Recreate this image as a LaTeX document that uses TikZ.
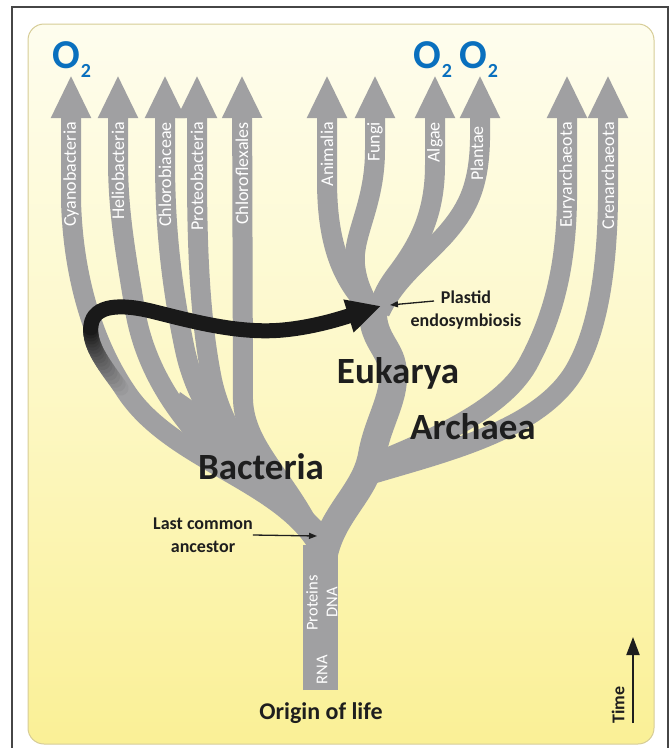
\documentclass[tikz,border=0pt]{standalone}
\usepackage{fontspec}
\setmainfont{Carlito}
\usetikzlibrary{arrows.meta}
\definecolor{branchgrey}{RGB}{160,160,162}
\definecolor{oxblue}{RGB}{10,112,190}
\definecolor{ink}{RGB}{30,30,30}
\definecolor{arrowblack}{RGB}{25,25,25}
\definecolor{bgtop}{RGB}{254,253,238}
\definecolor{bgmid}{RGB}{253,248,198}
\definecolor{bgbot}{RGB}{250,240,150}
\definecolor{panelline}{RGB}{214,204,150}
\definecolor{framegrey}{RGB}{70,70,70}
\begin{document}
\begin{tikzpicture}[x=1pt,y=-1pt,
  greybranch/.style={draw=branchgrey,line width=20pt,-{Triangle[length=43pt,width=37pt]}},
  greystem/.style={draw=branchgrey,line width=#1},
  branchlabel/.style={text=white,rotate=90,anchor=east,inner sep=0pt,font=\fontsize{18}{20}\selectfont},
  trunklabel/.style={text=white,rotate=90,inner sep=0pt,font=\fontsize{16.5}{18}\selectfont},
  domainlabel/.style={text=ink,inner sep=0pt,font=\bfseries\fontsize{37}{40}\selectfont},
  notelabel/.style={text=ink,inner sep=0pt,align=center,font=\bfseries\fontsize{18}{23}\selectfont},
  oxy/.style={text=oxblue,inner sep=0pt,font=\bfseries\fontsize{41}{41}\selectfont},
  oxysub/.style={text=oxblue,inner sep=0pt,font=\bfseries\fontsize{20}{20}\selectfont},
  pointer/.style={draw=ink,line width=1.3pt,-{Triangle[length=8pt,width=6pt]}},
]
\useasboundingbox (0,0) rectangle (670,748);
% frame and panel
\draw[framegrey,line width=1.2pt] (12,760) -- (12,7) -- (668,7) -- (668,760);
\draw[panelline,line width=1pt,rounded corners=16pt,top color=bgtop,bottom color=bgbot,middle color=bgmid] (28,24) rectangle (654,744);

% trunk
\coordinate (root) at (320,690);
\coordinate (split) at (320,545);
\draw[greystem=35pt] (root) -- (split);

% bacteria filler
\fill[branchgrey] (172,412) -- (180,392) -- (237,432) -- (300,500) -- (330,530) -- (310,548) -- (300,522) -- (250,490) -- (198,458) -- cycle;

% bacteria branches
\draw[greybranch] (318,545) .. controls (280,480) and (170,460) .. (125,390) .. controls (95,345) and (73,280) .. (71,200) -- (71,75);
\draw[greybranch] (300,515) .. controls (220,470) and (150,400) .. (135,310) .. controls (125,250) and (118,210) .. (118,160) -- (118,75);
\draw[greybranch] (305,520) .. controls (250,470) and (200,420) .. (185,350) .. controls (170,280) and (165,220) .. (165,160) -- (165,75);
\draw[greybranch] (305,525) .. controls (265,480) and (225,440) .. (212,380) .. controls (200,320) and (197,250) .. (197,170) -- (197,75);
\draw[greybranch] (318,545) .. controls (290,480) and (245,450) .. (243,400) -- (242,75);

% eukarya stem
\draw[greystem=28pt] (322,565) .. controls (328,515) and (365,495) .. (372,455) .. controls (378,420) and (398,395) .. (392,365) .. controls (388,345) and (368,335) .. (374,300);
% eukarya branches
\draw[greybranch] (372,310) .. controls (340,280) and (327,240) .. (327,180) -- (327,75);
\draw[greybranch] (372,312) .. controls (365,298) and (357,285) .. (355,265) .. controls (352,235) and (375,205) .. (375,150) -- (375,75);
\draw[greybranch] (378,312) .. controls (382,295) and (388,285) .. (398,272) .. controls (418,245) and (435,215) .. (435,165) -- (435,75);
\draw[greybranch] (380,312) .. controls (395,280) and (420,262) .. (445,235) .. controls (465,212) and (479,190) .. (480,140) -- (480,75);

% archaea branches
\draw[greybranch] (368,466) .. controls (430,440) and (505,410) .. (530,360) .. controls (552,318) and (566,270) .. (567,200) -- (567,75);
\draw[greybranch] (372,474) .. controls (445,452) and (540,430) .. (575,370) .. controls (598,330) and (607,270) .. (608,200) -- (608,75);

% plastid endosymbiosis arrow (fading start)
\path (124,392) .. controls (104,365) and (88,345) .. (91,325)
  coordinate[pos=0] (g0) coordinate[pos=0.05] (g1) coordinate[pos=0.1] (g2)
  coordinate[pos=0.15] (g3) coordinate[pos=0.2] (g4) coordinate[pos=0.25] (g5)
  coordinate[pos=0.3] (g6) coordinate[pos=0.35] (g7) coordinate[pos=0.4] (g8)
  coordinate[pos=0.45] (g9) coordinate[pos=0.5] (g10) coordinate[pos=0.55] (g11)
  coordinate[pos=0.6] (g12) coordinate[pos=0.65] (g13) coordinate[pos=0.7] (g14)
  coordinate[pos=0.75] (g15) coordinate[pos=0.8] (g16) coordinate[pos=0.85] (g17)
  coordinate[pos=0.9] (g18) coordinate[pos=0.95] (g19) coordinate[pos=1] (g20);
\foreach \i in {1,...,20} {
  \pgfmathtruncatemacro\j{\i-1}
  \pgfmathtruncatemacro\p{(\i-1)*100/19}
  \draw[line width=15pt,line cap=round,draw=arrowblack!\p!branchgrey] (g\j) -- (g\i);
}
\coordinate (plastidtip) at (381,306);
\draw[line width=15pt,draw=arrowblack,-{Triangle[length=34pt,width=32pt]}] (g20) .. controls (94,305) and (120,303) .. (155,312) .. controls (195,322) and (240,334) .. (283,330) .. controls (315,327) and (342,318) .. (plastidtip);

% branch labels
\node[branchlabel] (cyano) at (71,122) {Cyanobacteria};
\node[branchlabel] (helio) at (118,122) {Heliobacteria};
\node[branchlabel] (chlorobi) at (165,122) {Chlorobiaceae};
\node[branchlabel] (proteo) at (197,122) {Proteobacteria};
\node[branchlabel] (chloroflex) at (242,122) {Chloroflexales};
\node[branchlabel] (animalia) at (327,122) {Animalia};
\node[branchlabel] (fungi) at (375,122) {Fungi};
\node[branchlabel] (algae) at (435,122) {Algae};
\node[branchlabel] (plantae) at (477,126) {Plantae};
\node[branchlabel] (eury) at (567,122) {Euryarchaeota};
\node[branchlabel] (cren) at (608,122) {Crenarchaeota};

% trunk labels
\node[trunklabel] (rna) at (322,670) {RNA};
\node[trunklabel] (proteins) at (312,603) {Proteins};
\node[trunklabel] (dna) at (332,602) {DNA};

% O2
\node[oxy] (o2a) at (66,55) {O};
\node[oxysub] (o2asub) at (86,71) {2};
\node[oxy] (o2b) at (427,55) {O};
\node[oxysub] (o2bsub) at (447,71) {2};
\node[oxy] (o2c) at (473,55) {O};
\node[oxysub] (o2csub) at (493,71) {2};

% domain labels
\node[domainlabel] (bacteria) at (261,467) {Bacteria};
\node[domainlabel] (eukarya) at (398,373) {Eukarya};
\node[domainlabel] (archaea) at (473,427) {Archaea};

% notes
\node[notelabel] (lca) at (203,535) {Last common\\ancestor};
\coordinate (lcatip) at (317,536);
\draw[pointer] (lca.east) -- (lcatip);
\node[notelabel] (plastid) at (466,310) {Plastid\\endosymbiosis};
\coordinate (plastidtail) at (434,301);
\coordinate (plastidhead) at (390,305);
\draw[pointer] (plastidtail) -- (plastidhead);
\node[notelabel,font=\bfseries\fontsize{24}{26}\selectfont] (origin) at (321,713) {Origin of life};

% time arrow
\node[notelabel,rotate=90] (time) at (618,705) {Time};
\coordinate (timebase) at (633,723);
\coordinate (timetip) at (633,637);
\draw[draw=ink,line width=2pt,-{Triangle[length=18pt,width=13pt]}] (timebase) -- (timetip);
\end{tikzpicture}
\end{document}
